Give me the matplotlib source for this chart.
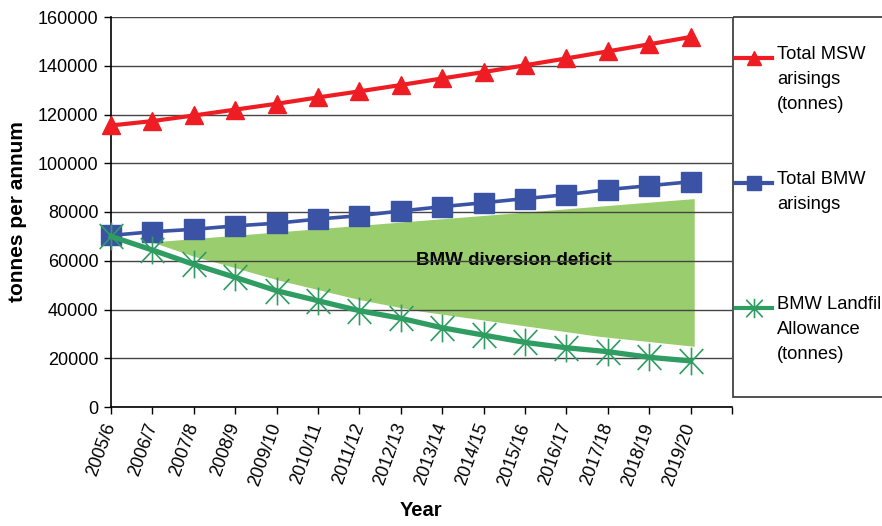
import numpy as np
import matplotlib.pyplot as plt
from matplotlib.path import Path
from matplotlib.patches import Rectangle

plt.rcParams['font.family'] = ['Liberation Sans', 'DejaVu Sans']

years = ['2005/6', '2006/7', '2007/8', '2008/9', '2009/10', '2010/11', '2011/12',
         '2012/13', '2013/14', '2014/15', '2015/16', '2016/17', '2017/18',
         '2018/19', '2019/20']
msw_arisings = [115500, 117300, 119600, 122000, 124400, 127000, 129500, 132100,
                134800, 137400, 140200, 143000, 145900, 148800, 151800]
bmw_arisings = [70400, 71900, 72900, 74300, 75400, 77100, 78500, 80400,
                82200, 83800, 85500, 87100, 89200, 90800, 92400]
landfill_allowance = [70000, 64400, 58500, 53200, 47700, 43600, 39500, 36400,
                      32500, 29500, 26500, 24300, 22700, 20400, 18900]

# shaded wedge between the BMW arisings and the landfill allowance
deficit_top_x = [1, 14.1]
deficit_top = [67500, 85300]
deficit_bottom_x = [1, 2, 3, 4, 5, 6, 7, 7.5, 11.8, 14.1]
deficit_bottom = [67500, 61700, 57000, 52100, 48000, 43900, 40600, 39100, 28800, 24700]

red = '#ee1d24'
blue = '#3a53a4'
green = '#2f9c62'
fill_green = '#9acd6e'

# asterisk marker: vertical stroke plus two diagonals
star = Path([(0, -1), (0, 1), (-0.85, -0.9), (0.85, 0.9), (-0.85, 0.9), (0.85, -0.9)],
            [Path.MOVETO, Path.LINETO, Path.MOVETO, Path.LINETO, Path.MOVETO, Path.LINETO])

W, H = 882, 526
fig = plt.figure(figsize=(W / 100, H / 100), dpi=100)
ax = fig.add_axes([111 / W, 119 / H, 621 / W, 390 / H])

x = np.arange(len(years))

poly_x = deficit_top_x + deficit_bottom_x[::-1]
poly_y = deficit_top + deficit_bottom[::-1]
ax.fill(poly_x, poly_y, color=fill_green, lw=0, zorder=0.5)
ax.text(7.37, 60300, 'BMW diversion deficit', fontsize=13.5, fontweight='bold',
        ha='left', va='center', zorder=1)

ax.plot(x, msw_arisings, color=red, lw=3, marker='^', ms=13.5, mec=red, zorder=3, clip_on=False)
ax.plot(x, bmw_arisings, color=blue, lw=2.6, marker='s', ms=14, mec=blue, zorder=3, clip_on=False)
ax.plot(x, landfill_allowance, color=green, lw=3.8, zorder=4, clip_on=False)
ax.plot(x, landfill_allowance, ls='none', marker=star, ms=20, mec=green, mew=1.2, zorder=4,
        clip_on=False)

ax.set_xlim(0, 15)
ax.set_ylim(0, 160000)
ax.set_yticks(np.arange(0, 160001, 20000))
ax.set_yticklabels([str(v) for v in range(0, 160001, 20000)])
ax.set_xticks(np.arange(16))
ax.set_xticklabels(years + [''], rotation=70, ha='right', va='center',
                   rotation_mode='anchor')
ax.tick_params(axis='both', labelsize=13, length=5, width=1, direction='out', color='black')
ax.tick_params(axis='x', pad=7)
ax.tick_params(axis='y', pad=4)

ax.grid(axis='y', color='#444444', lw=1)
ax.set_axisbelow('line')
ax.spines['top'].set_visible(False)
ax.spines['right'].set_visible(False)
for s in ['left', 'bottom']:
    ax.spines[s].set_linewidth(1.2)

fig.text(17.5 / W, 1 - 212 / H, 'tonnes per annum', rotation=90, fontsize=15,
         fontweight='bold', ha='center', va='center')
fig.text(421.5 / W, 1 - 511 / H, 'Year', fontsize=14.5, fontweight='bold',
         ha='center', va='center')

# legend box on the right, drawn in pixel coordinates
lax = fig.add_axes([0, 0, 1, 1], facecolor='none')
lax.set_xlim(0, W)
lax.set_ylim(H, 0)
lax.axis('off')
lax.add_patch(Rectangle((733, 17), 200, 380, fill=False, ec='#333333', lw=1.2, clip_on=False))

entries = [
    (58, red, '^', 13.5, 'Total MSW\narisings\n(tonnes)'),
    (183, blue, 's', 14, 'Total BMW\narisings'),
    (308, green, star, 20, 'BMW Landfill\nAllowance\n(tonnes)'),
]
for y, c, m, ms, label in entries:
    lax.plot([736, 772], [y, y], color=c, lw=3)
    if m is star:
        lax.plot([754], [y], ls='none', marker=m, ms=ms * 0.7, mec=c, mew=1.2)
    else:
        lax.plot([754], [y], ls='none', marker=m, ms=ms * 0.75, color=c)
    lax.text(777, y - 12, label, fontsize=13.2, ha='left', va='top', linespacing=1.6)

fig.savefig('out.png', dpi=100)
